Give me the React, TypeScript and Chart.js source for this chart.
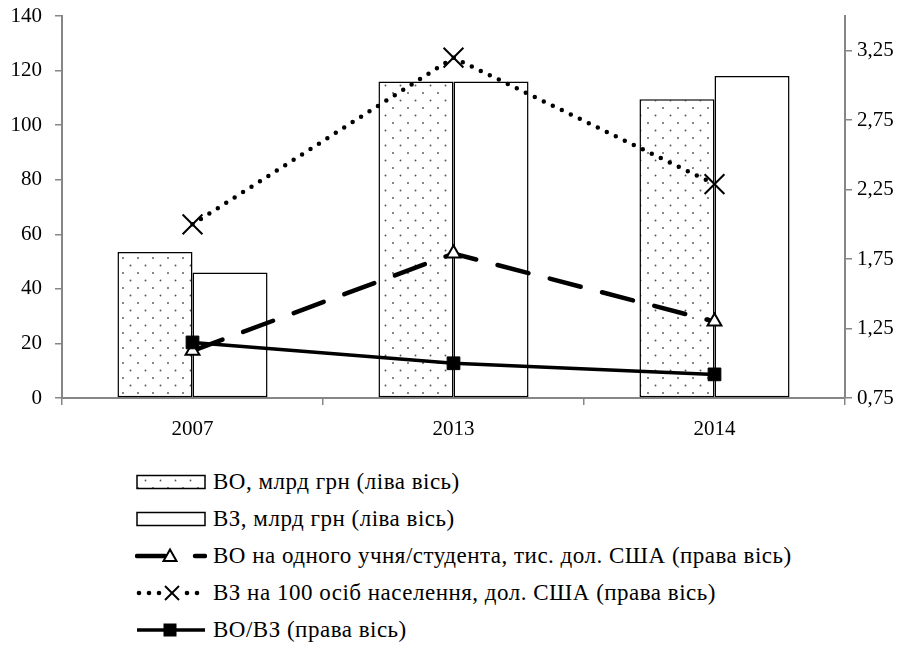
import React, { useEffect, useRef } from "react";
import { Chart, registerables } from "chart.js";

Chart.register(...registerables);

const categories = ["2007", "2013", "2014"];
const boBln = [53.5, 116, 109.5];
const vzBln = [46, 116, 118];
const boPerStudent = [1.09, 1.79, 1.3];
const vzPer100 = [2.0, 3.2, 2.29];
const boVzRatio = [1.15, 1.0, 0.92];
const leftTicks = [0, 20, 40, 60, 80, 100, 120, 140];
const rightTicks = [0.75, 1.25, 1.75, 2.25, 2.75, 3.25];

const legendLabels = [
  "ВО, млрд грн (ліва вісь)",
  "ВЗ, млрд грн (ліва вісь)",
  "ВО на одного учня/студента, тис. дол. США (права вісь)",
  "ВЗ на 100 осіб населення, дол. США (права вісь)",
  "ВО/ВЗ (права вісь)",
];

const FONT = "'Liberation Serif', 'Times New Roman', serif";
const AXIS_GRAY = "#868686";

function makeDotPattern(): CanvasPattern | string {
  const c = document.createElement("canvas");
  c.width = 15;
  c.height = 15;
  const g = c.getContext("2d");
  if (!g) return "#fff";
  g.fillStyle = "#ffffff";
  g.fillRect(0, 0, 15, 15);
  g.fillStyle = "#555555";
  g.beginPath();
  g.arc(3, 3, 0.95, 0, Math.PI * 2);
  g.fill();
  g.beginPath();
  g.arc(10.5, 10.5, 0.95, 0, Math.PI * 2);
  g.fill();
  const p = g.createPattern(c, "repeat");
  return p || "#fff";
}

function LegendSymbol({ idx }: { idx: number }) {
  const w = 72;
  const h = 24;
  const cy = 12;
  if (idx === 0) {
    return (
      <svg width={w} height={h}>
        <defs>
          <pattern id="dots" width="15" height="15" patternUnits="userSpaceOnUse">
            <rect width="15" height="15" fill="#fff" />
            <circle cx="3" cy="3" r="0.9" fill="#555" />
            <circle cx="10.5" cy="10.5" r="0.9" fill="#555" />
          </pattern>
        </defs>
        <rect x={2} y={5.5} width={68} height={13} fill="url(#dots)" stroke="#000" strokeWidth={1.5} />
      </svg>
    );
  }
  if (idx === 1) {
    return (
      <svg width={w} height={h}>
        <rect x={2} y={5.5} width={68} height={13} fill="#fff" stroke="#000" strokeWidth={1.5} />
      </svg>
    );
  }
  if (idx === 2) {
    return (
      <svg width={w} height={h}>
        <line x1={2} y1={cy} x2={30} y2={cy} stroke="#000" strokeWidth={4.5} strokeLinecap="round" />
        <polygon points="35,5.5 41.5,17 28.5,17" fill="#fff" stroke="#000" strokeWidth={2} />
        <line x1={60} y1={cy} x2={70} y2={cy} stroke="#000" strokeWidth={4.5} strokeLinecap="round" />
      </svg>
    );
  }
  if (idx === 3) {
    const dots = [4, 14, 24, 52, 62];
    return (
      <svg width={w} height={h}>
        {dots.map((x) => (
          <circle key={x} cx={x} cy={cy} r={2.3} fill="#000" />
        ))}
        <line x1={30} y1={5} x2={44} y2={19} stroke="#000" strokeWidth={2} />
        <line x1={44} y1={5} x2={30} y2={19} stroke="#000" strokeWidth={2} />
      </svg>
    );
  }
  return (
    <svg width={w} height={h}>
      <line x1={2} y1={cy} x2={70} y2={cy} stroke="#000" strokeWidth={3.5} />
      <rect x={28.5} y={5.5} width={13} height={13} fill="#000" />
    </svg>
  );
}

const zeroPad = (s: any) => {
  s.paddingTop = 0;
  s.paddingBottom = 0;
};

export default function App() {
  const ref = useRef<HTMLCanvasElement | null>(null);

  useEffect(() => {
    if (!ref.current) return;
    const pattern = makeDotPattern();
    const chart = new Chart(ref.current, {
      type: "bar",
      data: {
        labels: categories,
        datasets: [
          {
            type: "line",
            label: legendLabels[4],
            data: boVzRatio,
            yAxisID: "y1",
            borderColor: "#000",
            borderWidth: 3.5,
            pointStyle: "rect",
            pointRadius: 9,
            pointBackgroundColor: "#000",
            pointBorderColor: "#000",
            pointBorderWidth: 1,
            fill: false,
            order: 1,
          },
          {
            type: "line",
            label: legendLabels[2],
            data: boPerStudent,
            yAxisID: "y1",
            borderColor: "#000",
            borderWidth: 4.5,
            borderDash: [32, 22],
            borderCapStyle: "round",
            pointStyle: "triangle",
            pointRadius: 8,
            pointBackgroundColor: "#fff",
            pointBorderColor: "#000",
            pointBorderWidth: 2,
            fill: false,
            order: 1,
          },
          {
            type: "line",
            label: legendLabels[3],
            data: vzPer100,
            yAxisID: "y1",
            borderColor: "#000",
            borderWidth: 4.5,
            borderDash: [0, 10],
            borderCapStyle: "round",
            pointStyle: "crossRot",
            pointRadius: 14,
            pointBackgroundColor: "#000",
            pointBorderColor: "#000",
            pointBorderWidth: 2,
            fill: false,
            order: 1,
          },
          {
            type: "bar",
            label: legendLabels[0],
            data: boBln,
            yAxisID: "y",
            backgroundColor: pattern as any,
            borderColor: "#000",
            borderWidth: 1.5,
            borderSkipped: false,
            barPercentage: 1,
            categoryPercentage: 0.575,
            order: 2,
          },
          {
            type: "bar",
            label: legendLabels[1],
            data: vzBln,
            yAxisID: "y",
            backgroundColor: "#fff",
            borderColor: "#000",
            borderWidth: 1.5,
            borderSkipped: false,
            barPercentage: 1,
            categoryPercentage: 0.575,
            order: 2,
          },
        ],
      },
      options: {
        animation: false,
        responsive: true,
        maintainAspectRatio: false,
        layout: { padding: { top: 15, left: 0, right: 0, bottom: 10 } },
        plugins: {
          legend: { display: false },
          tooltip: { enabled: false },
        },
        scales: {
          x: {
            offset: true,
            grid: {
              display: true,
              offset: true,
              drawOnChartArea: false,
              drawTicks: true,
              tickLength: 7,
              color: AXIS_GRAY,
              lineWidth: 1.5,
            },
            border: { display: true, color: AXIS_GRAY, width: 2 },
            ticks: {
              color: "#000",
              font: { family: FONT, size: 21 },
              padding: 12,
            },
            afterFit: (s: any) => {
              s.height = 42;
              s.paddingLeft = 0;
              s.paddingRight = 0;
            },
          },
          y: {
            position: "left",
            min: 0,
            max: 140,
            afterBuildTicks: (s: any) => {
              s.ticks = leftTicks.map((v) => ({ value: v }));
            },
            grid: {
              display: true,
              drawOnChartArea: false,
              tickLength: 7,
              color: AXIS_GRAY,
              lineWidth: 1.5,
            },
            border: { display: true, color: AXIS_GRAY, width: 2 },
            ticks: {
              color: "#000",
              font: { family: FONT, size: 21 },
              padding: 13,
            },
            afterFit: (s: any) => {
              s.width = 62;
              zeroPad(s);
            },
          },
          y1: {
            position: "right",
            min: 0.75,
            max: 3.5,
            afterBuildTicks: (s: any) => {
              s.ticks = rightTicks.map((v) => ({ value: v }));
            },
            grid: {
              display: true,
              drawOnChartArea: false,
              tickLength: 7,
              color: AXIS_GRAY,
              lineWidth: 1.5,
            },
            border: { display: true, color: AXIS_GRAY, width: 2 },
            ticks: {
              color: "#000",
              font: { family: FONT, size: 21 },
              padding: 5,
              callback: (v: any) => Number(v).toFixed(2).replace(".", ","),
            },
            afterFit: (s: any) => {
              s.width = 68;
              zeroPad(s);
            },
          },
        },
      },
    });
    return () => chart.destroy();
  }, []);

  const rowCenters = [482, 519, 556, 593, 630];

  return (
    <div style={{ position: "absolute", left: 0, top: 0, width: 913, height: 645, background: "#fff" }}>
      <div style={{ position: "absolute", left: 0, top: 0, width: 913, height: 450 }}>
        <canvas ref={ref} />
      </div>
      {legendLabels.map((label, i) => (
        <div
          key={i}
          style={{
            position: "absolute",
            left: 135,
            top: rowCenters[i] - 14,
            height: 28,
            display: "flex",
            alignItems: "center",
            whiteSpace: "nowrap",
            fontFamily: FONT,
            fontSize: 23,
            letterSpacing: 0.5,
            color: "#000",
          }}
        >
          <LegendSymbol idx={i} />
          <span style={{ marginLeft: 6 }}>{label}</span>
        </div>
      ))}
    </div>
  );
}
